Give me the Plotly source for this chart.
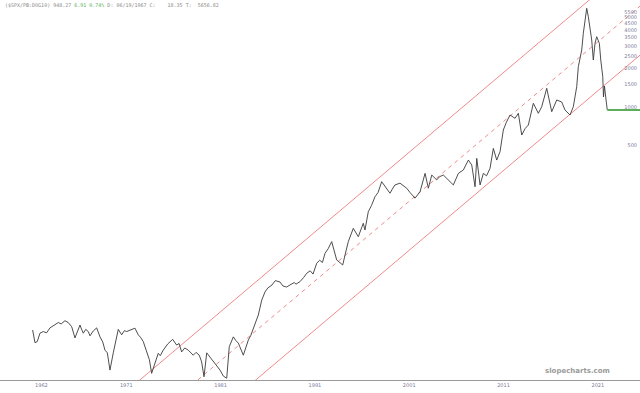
import plotly.graph_objects as go

# ---- data (decimal year, ratio value) ----
years = [1961.07, 1961.32, 1961.56, 1961.85, 1962.2, 1962.55, 1962.91, 1963.3, 1963.79, 1964.1,
         1964.5, 1964.85, 1965.21, 1965.56, 1965.8, 1966.09, 1966.25, 1966.44, 1966.7, 1966.97,
         1967.15, 1967.5, 1967.86, 1968.21, 1968.5, 1968.74, 1968.99, 1969.27, 1969.62, 1969.9,
         1970.15, 1970.51, 1970.8, 1971.04, 1971.5, 1971.92, 1972.27, 1972.5, 1972.8, 1973.16,
         1973.45, 1973.69, 1974.04, 1974.39, 1974.6, 1974.92, 1975.4, 1975.92, 1976.34, 1976.6,
         1976.87, 1977.2, 1977.57, 1978.1, 1978.4, 1978.74, 1978.99, 1979.24, 1979.53, 1979.9,
         1980.23, 1980.6, 1980.94, 1981.29, 1981.65, 1981.92, 1982.35, 1982.6, 1982.88, 1983.41,
         1983.94, 1984.2, 1984.47, 1985.0, 1985.36, 1985.71, 1986.0, 1986.45, 1986.8, 1987.3,
         1987.6, 1988.0, 1988.36, 1988.8, 1989.0, 1989.42, 1989.8, 1990.13, 1990.5, 1990.8,
         1991.19, 1991.5, 1991.8, 1992.07, 1992.4, 1992.78, 1993.31, 1993.95, 1994.2, 1994.54,
         1995.07, 1995.6, 1996.13, 1996.31, 1996.66, 1997.0, 1997.37, 1997.7, 1998.08, 1998.61,
         1998.96, 1999.2, 1999.49, 2000.02, 2000.4, 2000.73, 2001.1, 2001.62, 2002.15, 2002.68,
         2003.03, 2003.39, 2003.92, 2004.2, 2004.62, 2005.15, 2005.68, 2006.21, 2006.74, 2007.27,
         2007.63, 2007.98, 2008.16, 2008.51, 2008.86, 2009.2, 2009.57, 2009.92, 2010.28, 2010.63,
         2010.98, 2011.3, 2011.69, 2012.22, 2012.57, 2012.93, 2013.3, 2013.63, 2014.16, 2014.69,
         2015.05, 2015.58, 2016.11, 2016.64, 2017.17, 2017.52, 2018.05, 2018.4, 2018.58, 2018.76,
         2018.93, 2019.29, 2019.46, 2019.64, 2019.82, 2019.99, 2020.17, 2020.35, 2020.52, 2020.7,
         2020.88, 2021.16, 2021.31, 2021.52, 2021.6, 2021.7, 2021.87, 2022.0]
values = [18.1, 14.4, 14.7, 17.1, 17.6, 17.2, 18.8, 19.6, 20.7, 20.2,
          21.4, 20.7, 19.2, 15.7, 17.6, 19.8, 18.4, 17.1, 18.3, 17.6,
          16.3, 17.8, 18.8, 16.0, 14.6, 12.6, 12.0, 8.8, 12.0, 15.2,
          18.3, 16.6, 17.9, 17.6, 18.3, 18.7, 16.6, 15.9, 14.7, 12.2,
          10.6, 8.3, 10.0, 11.9, 11.4, 12.6, 14.1, 15.3, 13.8, 14.2,
          12.2, 13.1, 12.6, 11.5, 12.1, 11.5, 10.2, 7.8, 12.0, 11.1,
          10.2, 9.6, 8.8, 7.9, 7.6, 13.4, 16.0, 15.0, 14.3, 11.5,
          15.1, 16.4, 18.7, 23.7, 31.0, 35.9, 38.5, 40.7, 44.0, 42.9,
          40.0, 39.2, 40.7, 42.5, 41.3, 43.2, 46.5, 50.2, 52.5, 49.5,
          60.1, 63.5, 61.0, 71.9, 78.0, 88.7, 63.8, 58.3, 70.0, 88.7,
          112.7, 97.0, 123.4, 109.4, 152, 170, 199, 215, 261, 232,
          212, 228, 246, 254, 240, 232, 214, 194, 218, 303,
          232, 294, 269, 285, 294, 269, 246, 303, 322, 385,
          352, 238, 397, 246, 303, 290, 332, 475, 385, 448,
          661, 760, 866, 816, 893, 604, 680, 723, 1069, 893,
          1005, 1400, 919, 1135, 1094, 947, 866, 1005, 1203, 1442,
          2065, 2788, 3765, 4786, 5902, 5073, 4238, 3337, 2328, 3147,
          3540, 3147, 2328, 1725, 1197, 1459, 1135, 948]

last_value = 948.27
flat_end_year = 2025.47

# regression channel (log scale): endpoints of centre line, channel factor
chan_years = [1965.0, 2026.0]
chan_mid = [1.05, 6622.0]
chan_factor = 2.414

x_ticks = [1962, 1971, 1981, 1991, 2001, 2011, 2021]
x_ticktext = ["1962", "1971", "1981", "1991", "2001", "2011", "2021"]
y_ticks = [500, 1000, 1500, 2000, 2500, 3000, 3500, 4000, 4500, 5000, 5500]

red = "#f08a8a"

fig = go.Figure()
fig.add_trace(go.Scatter(x=chan_years, y=[v * chan_factor for v in chan_mid], mode="lines",
                         line=dict(color=red, width=1), hoverinfo="skip"))
fig.add_trace(go.Scatter(x=chan_years, y=chan_mid, mode="lines",
                         line=dict(color=red, width=1, dash="4px,4px"), hoverinfo="skip"))
fig.add_trace(go.Scatter(x=chan_years, y=[v / chan_factor for v in chan_mid], mode="lines",
                         line=dict(color=red, width=1), hoverinfo="skip"))
fig.add_trace(go.Scatter(x=years, y=values, mode="lines",
                         line=dict(color="#3a3a3a", width=0.9)))
fig.add_trace(go.Scatter(x=[years[-1], flat_end_year], y=[last_value, last_value], mode="lines",
                         line=dict(color="#5cae5c", width=2)))

fig.update_layout(
    width=640, height=393,
    margin=dict(l=0, r=0, t=0, b=13),
    paper_bgcolor="white", plot_bgcolor="white",
    showlegend=False,
    xaxis=dict(range=[1957.61, 2025.47], tickvals=x_ticks, ticktext=x_ticktext,
               showgrid=False, zeroline=False, showline=True, linecolor="#9a9a9a", linewidth=1,
               ticks="", tickfont=dict(size=5, color="#7a7a9a", family="DejaVu Sans")),
    yaxis=dict(type="log", range=[0.867, 3.836], side="right", tickvals=y_ticks,
               ticktext=[str(v) for v in y_ticks], ticklabelposition="inside",
               showgrid=False, zeroline=False, showline=False, ticks="",
               tickfont=dict(size=5, color="#7a7a9a", family="DejaVu Sans")),
    annotations=[
        dict(xref="paper", yref="paper", x=0.004, y=1.0, xanchor="left", yanchor="top",
             showarrow=False, align="left",
             font=dict(size=5, family="DejaVu Sans Mono", color="#8a8a8a"),
             text="($SPX/PB:DOG10) 948.27 <span style='color:#5cae5c'>6.91 0.74%</span> D: 06/19/1967 C:    18.35 T:  5656.82"),
        dict(xref="paper", yref="paper", x=0.957, y=0.008, xanchor="right", yanchor="bottom",
             showarrow=False,
             font=dict(size=7, family="DejaVu Sans", color="#9a9a9a"),
             text="<b>slopecharts.com</b>"),
    ],
)

fig.write_html("out.html")
